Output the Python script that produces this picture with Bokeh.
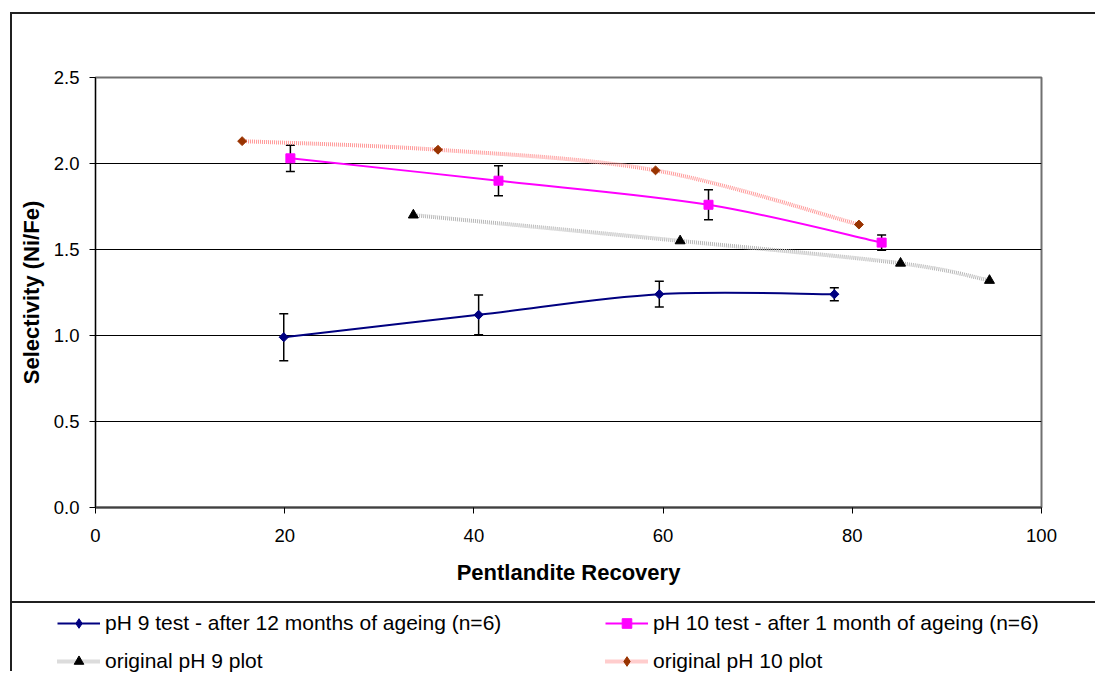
import numpy as np
from bokeh.plotting import figure
from bokeh.layouts import column
from bokeh.models import (Range1d, Whisker, ColumnDataSource, Legend, LegendItem,
                          FixedTicker, NumeralTickFormatter, TeeHead)
from bokeh.embed import file_html
from bokeh.resources import INLINE

# ---- data ----
ph9_x = [19.9, 40.5, 59.6, 78.1]
ph9_y = [0.99, 1.12, 1.24, 1.24]
ph9_err = [0.137, 0.116, 0.075, 0.038]

ph10_x = [20.6, 42.6, 64.8, 83.1]
ph10_y = [2.03, 1.90, 1.76, 1.54]
ph10_err = [0.076, 0.087, 0.087, 0.044]

orig9_x = [33.6, 61.8, 85.1, 94.5]
orig9_y = [1.70, 1.55, 1.42, 1.32]

orig10_x = [15.5, 36.2, 59.2, 80.7]
orig10_y = [2.13, 2.08, 1.96, 1.645]

x_ticks = [0, 20, 40, 60, 80, 100]
y_ticks = [0.0, 0.5, 1.0, 1.5, 2.0, 2.5]

labels = ["pH 9 test - after 12 months of ageing (n=6)",
          "pH 10 test - after 1 month of ageing (n=6)",
          "original pH 9 plot",
          "original pH 10 plot"]

FONT = "Liberation Sans"

# styles
C9, C10, CO9_LINE, CO9_PT, CO10_LINE, CO10_PT = ("#000080", "#ff00ff", "#b8b8b8",
                                                  "black", "#ff9a9a", "#993300")


def smooth_source(xs, ys):
    """Bezier control points (Catmull-Rom style) for a smoothed line through the data."""
    n = len(xs)
    P = list(zip(xs, ys))
    d = dict(x0=[], y0=[], x1=[], y1=[], cx0=[], cy0=[], cx1=[], cy1=[])
    for i in range(n - 1):
        pm = P[i - 1] if i > 0 else P[i]
        p0 = P[i]
        p1 = P[i + 1]
        p2 = P[i + 2] if i + 2 < n else P[i + 1]
        d["x0"].append(p0[0]); d["y0"].append(p0[1])
        d["x1"].append(p1[0]); d["y1"].append(p1[1])
        d["cx0"].append(p0[0] + (p1[0] - pm[0]) / 6.0)
        d["cy0"].append(p0[1] + (p1[1] - pm[1]) / 6.0)
        d["cx1"].append(p1[0] - (p2[0] - p0[0]) / 6.0)
        d["cy1"].append(p1[1] - (p2[1] - p0[1]) / 6.0)
    return ColumnDataSource(d)


def bez(fig, src, **kw):
    return fig.bezier(x0="x0", y0="y0", x1="x1", y1="y1", cx0="cx0", cy0="cy0",
                      cx1="cx1", cy1="cy1", source=src, **kw)


W = 1083
p = figure(width=W, height=587, output_backend="svg", toolbar_location=None,
           x_range=Range1d(0, 100), y_range=Range1d(0, 2.5),
           min_border_left=83, min_border_top=63, min_border_right=54,
           min_border_bottom=94)
p.background_fill_color = "white"
p.border_fill_color = "white"
p.outline_line_color = "#707070"
p.outline_line_width = 2

# axes
p.xaxis.ticker = FixedTicker(ticks=x_ticks)
p.yaxis.ticker = FixedTicker(ticks=y_ticks)
p.yaxis.formatter = NumeralTickFormatter(format="0.0")
for ax in (p.xaxis[0], p.yaxis[0]):
    ax.major_tick_out = 6
    ax.major_tick_in = 0
    ax.minor_tick_out = 0
    ax.minor_tick_in = 0
    ax.major_tick_line_color = "black"
    ax.major_label_text_font = FONT
    ax.major_label_text_font_size = "18.5px"
    ax.major_label_text_color = "black"
    ax.axis_label_text_font = FONT
    ax.axis_label_text_font_size = "22px"
    ax.axis_label_text_font_style = "bold"
    ax.axis_label_text_color = "black"
p.xaxis.axis_label = "Pentlandite Recovery"
p.yaxis.axis_label = "Selectivity (Ni/Fe)"
p.xaxis.axis_line_color = "#404040"
p.xaxis.axis_line_width = 2
p.yaxis.axis_line_color = "black"
p.yaxis.axis_line_width = 1
p.yaxis.major_label_standoff = 10
p.yaxis.axis_label_standoff = 7
p.xaxis.major_label_standoff = 15
p.xaxis.axis_label_standoff = 15

p.xgrid.grid_line_color = None
p.ygrid.ticker = FixedTicker(ticks=y_ticks)
p.ygrid.grid_line_color = "black"
p.ygrid.grid_line_width = 1

# original pH 9 plot
bez(p, smooth_source(orig9_x, orig9_y), line_color=CO9_LINE, line_width=4, line_dash="1 1")
p.scatter(orig9_x, orig9_y, marker="triangle", size=10, fill_color=CO9_PT, line_color=CO9_PT)

# original pH 10 plot
bez(p, smooth_source(orig10_x, orig10_y), line_color=CO10_LINE, line_width=4, line_dash="1 1")
p.scatter(orig10_x, orig10_y, marker="square", angle=np.pi / 4, size=6.3,
          fill_color=CO10_PT, line_color=CO10_PT)

# pH 9 test
bez(p, smooth_source(ph9_x, ph9_y), line_color=C9, line_width=2)
e9 = ColumnDataSource(dict(x=ph9_x,
                           lo=[v - e for v, e in zip(ph9_y, ph9_err)],
                           hi=[v + e for v, e in zip(ph9_y, ph9_err)]))
p.add_layout(Whisker(base="x", lower="lo", upper="hi", source=e9,
                     line_color="black", line_width=1.5,
                     upper_head=TeeHead(size=9, line_color="black", line_width=1.5),
                     lower_head=TeeHead(size=9, line_color="black", line_width=1.5)))
p.scatter(ph9_x, ph9_y, marker="square", angle=np.pi / 4, size=6.5,
          fill_color=C9, line_color=C9)

# pH 10 test
bez(p, smooth_source(ph10_x, ph10_y), line_color=C10, line_width=2)
e10 = ColumnDataSource(dict(x=ph10_x,
                            lo=[v - e for v, e in zip(ph10_y, ph10_err)],
                            hi=[v + e for v, e in zip(ph10_y, ph10_err)]))
p.add_layout(Whisker(base="x", lower="lo", upper="hi", source=e10,
                     line_color="black", line_width=1.5,
                     upper_head=TeeHead(size=9, line_color="black", line_width=1.5),
                     lower_head=TeeHead(size=9, line_color="black", line_width=1.5)))
p.scatter(ph10_x, ph10_y, marker="square", size=9, fill_color=C10, line_color=C10)

# ---- legend strip (separate figure below the chart) ----
# Its ranges lie outside all data values, so the series glyphs here are never
# visible; they only supply the legend samples.
lg = figure(width=W, height=70, output_backend="svg", toolbar_location=None,
            x_range=Range1d(-2, -1), y_range=Range1d(-2, -1),
            x_axis_type=None, y_axis_type=None,
            min_border_left=0, min_border_right=0, min_border_top=0, min_border_bottom=0,
            styles={"border-top": "2px solid #202020"})
lg.frame_align = False
lg.outline_line_color = None
lg.grid.visible = False
lg.background_fill_color = "white"
lg.border_fill_color = "white"

l9 = lg.line(ph9_x, ph9_y, line_color=C9, line_width=2)
m9 = lg.scatter(ph9_x, ph9_y, marker="diamond", size=11,
                fill_color=C9, line_color=C9)
l10 = lg.line(ph10_x, ph10_y, line_color=C10, line_width=2)
m10 = lg.scatter(ph10_x, ph10_y, marker="square", size=9, fill_color=C10, line_color=C10)
lo9 = lg.line(orig9_x, orig9_y, line_color=CO9_LINE, line_width=4, line_dash="1 1")
mo9 = lg.scatter(orig9_x, orig9_y, marker="triangle", size=10,
                 fill_color=CO9_PT, line_color=CO9_PT)
lo10 = lg.line(orig10_x, orig10_y, line_color=CO10_LINE, line_width=4, line_dash="1 1")
mo10 = lg.scatter(orig10_x, orig10_y, marker="diamond", size=11,
                  fill_color=CO10_PT, line_color=CO10_PT)


def make_legend(items, xloc):
    return Legend(items=items, location=(xloc, 0), orientation="vertical",
                  glyph_width=43, glyph_height=24, label_height=24,
                  label_standoff=5, spacing=14, padding=0, margin=0,
                  border_line_color=None, background_fill_alpha=0,
                  label_text_font=FONT, label_text_font_size="21px",
                  label_text_color="black")


lg.add_layout(make_legend([LegendItem(label=labels[0], renderers=[l9, m9]),
                           LegendItem(label=labels[2], renderers=[lo9, mo9])], 45))
lg.add_layout(make_legend([LegendItem(label=labels[1], renderers=[l10, m10]),
                           LegendItem(label=labels[3], renderers=[lo10, mo10])], 593))

layout = column(p, lg, spacing=0,
                styles={"border-left": "2px solid #202020",
                        "border-top": "2px solid #202020",
                        "margin-left": "10px", "margin-top": "12px"})

open("out.html", "w").write(file_html(layout, INLINE))
